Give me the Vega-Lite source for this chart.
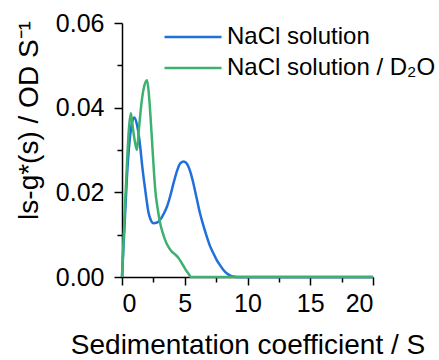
{
  "$schema": "https://vega.github.io/schema/vega-lite/v6.json",
  "autosize": "none",
  "width": 251,
  "height": 254,
  "padding": {"left": 122, "top": 23, "right": 66, "bottom": 83},
  "data": {
    "values": [
      {"s": 0, "g": 0, "series": "NaCl solution"},
      {"s": 0.2, "g": 0.012, "series": "NaCl solution"},
      {"s": 0.4, "g": 0.024, "series": "NaCl solution"},
      {"s": 0.6, "g": 0.032, "series": "NaCl solution"},
      {"s": 0.8, "g": 0.0365, "series": "NaCl solution"},
      {"s": 0.98, "g": 0.0377, "series": "NaCl solution"},
      {"s": 1.19, "g": 0.036, "series": "NaCl solution"},
      {"s": 1.45, "g": 0.0308, "series": "NaCl solution"},
      {"s": 1.6, "g": 0.0265, "series": "NaCl solution"},
      {"s": 1.85, "g": 0.0206, "series": "NaCl solution"},
      {"s": 2.12, "g": 0.0151, "series": "NaCl solution"},
      {"s": 2.3, "g": 0.0134, "series": "NaCl solution"},
      {"s": 2.51, "g": 0.0127, "series": "NaCl solution"},
      {"s": 2.75, "g": 0.0128, "series": "NaCl solution"},
      {"s": 3.04, "g": 0.0135, "series": "NaCl solution"},
      {"s": 3.3, "g": 0.0148, "series": "NaCl solution"},
      {"s": 3.58, "g": 0.0166, "series": "NaCl solution"},
      {"s": 3.85, "g": 0.0192, "series": "NaCl solution"},
      {"s": 4.1, "g": 0.0221, "series": "NaCl solution"},
      {"s": 4.4, "g": 0.0252, "series": "NaCl solution"},
      {"s": 4.63, "g": 0.0268, "series": "NaCl solution"},
      {"s": 4.9, "g": 0.0273, "series": "NaCl solution"},
      {"s": 5.1, "g": 0.027, "series": "NaCl solution"},
      {"s": 5.29, "g": 0.0261, "series": "NaCl solution"},
      {"s": 5.5, "g": 0.0243, "series": "NaCl solution"},
      {"s": 5.69, "g": 0.0221, "series": "NaCl solution"},
      {"s": 5.95, "g": 0.0186, "series": "NaCl solution"},
      {"s": 6.22, "g": 0.015, "series": "NaCl solution"},
      {"s": 6.5, "g": 0.012, "series": "NaCl solution"},
      {"s": 6.76, "g": 0.0095, "series": "NaCl solution"},
      {"s": 7.0, "g": 0.0074, "series": "NaCl solution"},
      {"s": 7.28, "g": 0.0056, "series": "NaCl solution"},
      {"s": 7.55, "g": 0.004, "series": "NaCl solution"},
      {"s": 7.81, "g": 0.0028, "series": "NaCl solution"},
      {"s": 8.1, "g": 0.0016, "series": "NaCl solution"},
      {"s": 8.34, "g": 0.0009, "series": "NaCl solution"},
      {"s": 8.6, "g": 0.0004, "series": "NaCl solution"},
      {"s": 8.87, "g": 0.0001, "series": "NaCl solution"},
      {"s": 9.1, "g": 0, "series": "NaCl solution"},
      {"s": 12, "g": 0, "series": "NaCl solution"},
      {"s": 16, "g": 0, "series": "NaCl solution"},
      {"s": 20, "g": 0, "series": "NaCl solution"},
      {"s": 0, "g": 0, "series": "NaCl solution / D₂O"},
      {"s": 0.2, "g": 0.014, "series": "NaCl solution / D₂O"},
      {"s": 0.4, "g": 0.027, "series": "NaCl solution / D₂O"},
      {"s": 0.55, "g": 0.035, "series": "NaCl solution / D₂O"},
      {"s": 0.71, "g": 0.0387, "series": "NaCl solution / D₂O"},
      {"s": 0.85, "g": 0.0355, "series": "NaCl solution / D₂O"},
      {"s": 1.0, "g": 0.0325, "series": "NaCl solution / D₂O"},
      {"s": 1.19, "g": 0.03, "series": "NaCl solution / D₂O"},
      {"s": 1.35, "g": 0.035, "series": "NaCl solution / D₂O"},
      {"s": 1.55, "g": 0.041, "series": "NaCl solution / D₂O"},
      {"s": 1.75, "g": 0.0448, "series": "NaCl solution / D₂O"},
      {"s": 1.99, "g": 0.0465, "series": "NaCl solution / D₂O"},
      {"s": 2.1, "g": 0.0445, "series": "NaCl solution / D₂O"},
      {"s": 2.2, "g": 0.041, "series": "NaCl solution / D₂O"},
      {"s": 2.38, "g": 0.0328, "series": "NaCl solution / D₂O"},
      {"s": 2.5, "g": 0.027, "series": "NaCl solution / D₂O"},
      {"s": 2.65, "g": 0.0206, "series": "NaCl solution / D₂O"},
      {"s": 2.85, "g": 0.016, "series": "NaCl solution / D₂O"},
      {"s": 3.04, "g": 0.0127, "series": "NaCl solution / D₂O"},
      {"s": 3.25, "g": 0.0104, "series": "NaCl solution / D₂O"},
      {"s": 3.44, "g": 0.0087, "series": "NaCl solution / D₂O"},
      {"s": 3.7, "g": 0.0071, "series": "NaCl solution / D₂O"},
      {"s": 3.97, "g": 0.006, "series": "NaCl solution / D₂O"},
      {"s": 4.25, "g": 0.0053, "series": "NaCl solution / D₂O"},
      {"s": 4.5, "g": 0.0045, "series": "NaCl solution / D₂O"},
      {"s": 4.7, "g": 0.0036, "series": "NaCl solution / D₂O"},
      {"s": 4.9, "g": 0.0026, "series": "NaCl solution / D₂O"},
      {"s": 5.1, "g": 0.0016, "series": "NaCl solution / D₂O"},
      {"s": 5.29, "g": 0.0008, "series": "NaCl solution / D₂O"},
      {"s": 5.5, "g": 0, "series": "NaCl solution / D₂O"},
      {"s": 8, "g": 0, "series": "NaCl solution / D₂O"},
      {"s": 12, "g": 0, "series": "NaCl solution / D₂O"},
      {"s": 16, "g": 0, "series": "NaCl solution / D₂O"},
      {"s": 20, "g": 0, "series": "NaCl solution / D₂O"}
    ]
  },
  "mark": {"type": "line", "interpolate": "monotone", "strokeWidth": 2.5},
  "encoding": {
    "x": {
      "field": "s", "type": "quantitative",
      "scale": {"domain": [0, 20], "nice": false},
      "axis": {
        "title": "Sedimentation coefficient / S",
        "values": [0, 2.5, 5, 7.5, 10, 12.5, 15, 17.5, 20],
        "labelExpr": "datum.value % 5 == 0 ? datum.label : ''",
        "tickSize": {"condition": {"test": "datum.value % 5 == 0", "value": 8}, "value": 5},
        "labelPadding": 6,
        "titleY": 76,
        "titleBaseline": "alphabetic"
      }
    },
    "y": {
      "field": "g", "type": "quantitative",
      "scale": {"domain": [0, 0.06], "nice": false},
      "axis": {
        "title": "ls-g*(s) / OD S⁻¹",
        "values": [0, 0.01, 0.02, 0.03, 0.04, 0.05, 0.06],
        "labelExpr": "round(datum.value * 100) % 2 == 0 ? format(datum.value, '.2f') : ''",
        "tickSize": {"condition": {"test": "round(datum.value * 100) % 2 == 0", "value": 8}, "value": 5},
        "labelPadding": 10,
        "titleAngle": -90,
        "titleX": -85,
        "titleY": 97,
        "titleAlign": "center",
        "titleBaseline": "alphabetic"
      }
    },
    "color": {
      "field": "series", "type": "nominal",
      "scale": {"domain": ["NaCl solution", "NaCl solution / D₂O"], "range": ["#1f6fdc", "#3cb170"]},
      "legend": {
        "title": null,
        "orient": "none",
        "legendX": 59,
        "legendY": 2,
        "symbolType": "M-3,0H3",
        "symbolSize": 361,
        "symbolStrokeWidth": 2.5,
        "labelFontSize": 24,
        "labelOffset": 22,
        "rowPadding": 7,
        "padding": 0
      }
    }
  },
  "config": {
    "view": {"stroke": null},
    "font": "Liberation Sans",
    "axis": {
      "grid": false,
      "domainColor": "black",
      "domainWidth": 1.5,
      "tickColor": "black",
      "tickWidth": 1.5,
      "labelFont": "Liberation Sans",
      "labelFontSize": 25,
      "labelColor": "black",
      "titleFont": "Liberation Sans",
      "titleFontSize": 28,
      "titleFontWeight": "normal",
      "titleColor": "black"
    },
    "legend": {
      "labelFont": "Liberation Sans",
      "labelColor": "black",
      "labelLimit": 400
    }
  }
}
